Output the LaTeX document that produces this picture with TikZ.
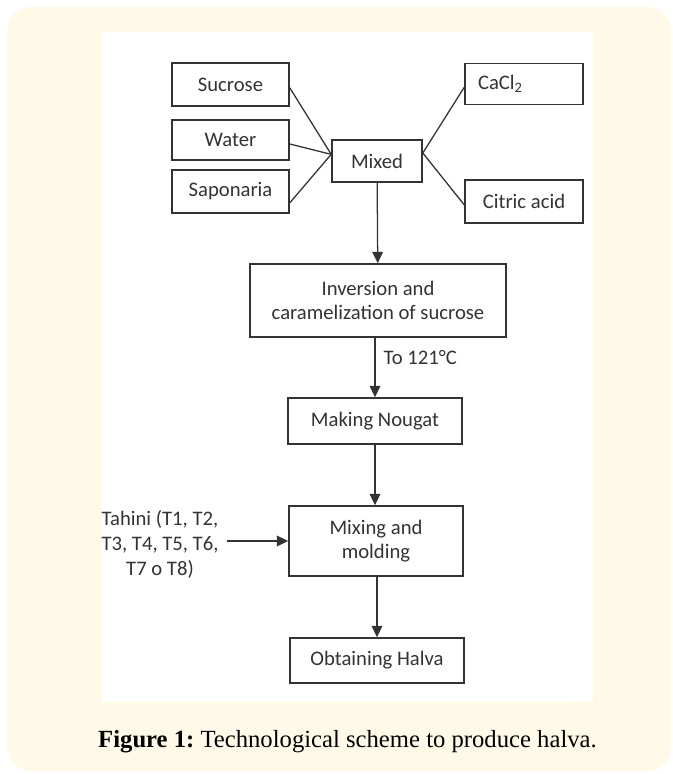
\documentclass[tikz,border=0pt]{standalone}
\usepackage{fontspec}
\setmainfont{Carlito}
\newfontfamily\capfont{Liberation Serif}
\usetikzlibrary{arrows.meta}
\definecolor{cream}{HTML}{FFFAE8}
\definecolor{ink}{HTML}{333333}

\begin{document}
\begin{tikzpicture}[x=0.75pt,y=-0.75pt,
    box/.style={draw=ink,line width=1.2pt,text=ink,font=\fontsize{15.5}{18}\selectfont,
      align=center,inner sep=0pt},
    link/.style={draw=ink,line width=0.95pt},
    flow/.style={link,-{Triangle[length=8.5pt,width=8pt]}}]
  \useasboundingbox (0,0) rectangle (673,774);
  \fill[cream,rounded corners=18pt] (7,7) rectangle (671,771);
  \fill[white] (102,32) rectangle (593,702);
  % inputs
  \node[box,minimum width=87.75pt,minimum height=32.25pt] (sucrose) at (230.5,84.5) {Sucrose};
  \node[box,minimum width=87.75pt,minimum height=30pt] (water) at (230.5,140) {Water};
  \node[box,minimum width=87.75pt,minimum height=32.25pt] (saponaria) at (230.5,191.5) {Saponaria};
  \node[box,minimum width=67.5pt,minimum height=31.5pt] (mixed) at (377,161) {Mixed};
  \node[box,text width=69pt,inner xsep=9.75pt,align=left,minimum height=30.75pt] (cacl) at (524,84) {CaCl\textsubscript{2}};
  \node[box,minimum width=88.5pt,minimum height=32.25pt] (citric) at (524,201.5) {Citric acid};
  \coordinate (mixin) at ([yshift=5pt]mixed.west);
  \coordinate (mixout) at ([yshift=6pt]mixed.east);
  \draw[link] ([yshift=-2.5pt]sucrose.east) -- (mixin);
  \draw[link] ([yshift=-3pt]water.east) -- (mixin);
  \draw[link] ([yshift=-8.5pt]saponaria.east) -- (mixin);
  \draw[link] ([yshift=-2.5pt]cacl.west) -- (mixout);
  \draw[link] ([yshift=-2.5pt]citric.west) -- (mixout);
  % process line
  \node[box,minimum width=192pt,minimum height=54.75pt] (inversion) at (378,300.5)
    {Inversion and\\caramelization of sucrose};
  \node[box,minimum width=130.5pt,minimum height=34.5pt] (nougat) at (375,421) {Making Nougat};
  \node[box,minimum width=130.5pt,minimum height=52.5pt] (mixing) at (376,541) {Mixing and\\molding};
  \node[box,minimum width=130.5pt,minimum height=33.75pt] (halva) at (377,660.5) {Obtaining Halva};
  \node[text=ink,font=\fontsize{15.5}{18.75}\selectfont,align=center,inner sep=6pt] (tahini) at (160,544)
    {Tahini (T1, T2,\\T3, T4, T5, T6,\\T7 o T8)};
  \draw[flow] (mixed) -- (inversion);
  \draw[flow] (inversion.south-|nougat.north) -- (nougat)
    node[pos=0.33,right,text=ink,font=\fontsize{15.5}{18}\selectfont,inner sep=6pt] {To 121°C};
  \draw[flow] (nougat) -- (mixing.north-|nougat.south);
  \draw[flow] (mixing.south-|halva.north) -- (halva);
  \draw[flow] (tahini.east|-mixing.west) -- (mixing.west);
  \node[font=\capfont\fontsize{18.5}{22}\selectfont] (caption) at (347.5,742)
    {\textbf{Figure 1:}\ Technological scheme to produce halva.};
\end{tikzpicture}
\end{document}
